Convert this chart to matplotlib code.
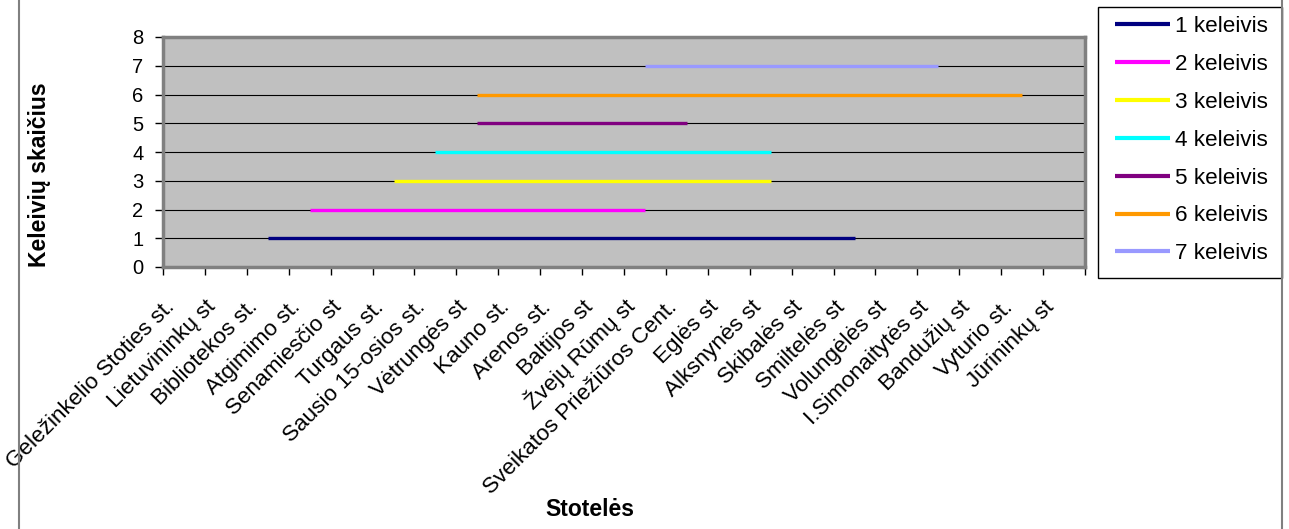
import numpy as np
import matplotlib
matplotlib.use("Agg")
import matplotlib.pyplot as plt
from matplotlib.lines import Line2D
from matplotlib.patches import Rectangle
from matplotlib.transforms import blended_transform_factory, ScaledTranslation

plt.rcParams['font.family'] = ['Liberation Sans', 'DejaVu Sans']

N = np.nan
stops = ["Geležinkelio Stoties st.", "Lietuvininkų st", "Bibliotekos st.", "Atgimimo st.",
         "Senamiesčio st", "Turgaus st.", "Sausio 15-osios st.", "Vėtrungės st",
         "Kauno st.", "Arenos st.", "Baltijos st", "Žvejų Rūmų st",
         "Sveikatos Priežiūros Cent.", "Eglės st", "Alksnynės st", "Skibalės st",
         "Smiltelės st", "Volungėlės st", "I.Simonaitytės st", "Bandužių st",
         "Vyturio st.", "Jūrininkų st"]

p1 = [N, N, 1, 1, 1, 1, 1, 1, 1, 1, 1, 1, 1, 1, 1, 1, 1, N, N, N, N, N]
p2 = [N, N, N, 2, 2, 2, 2, 2, 2, 2, 2, 2, N, N, N, N, N, N, N, N, N, N]
p3 = [N, N, N, N, N, 3, 3, 3, 3, 3, 3, 3, 3, 3, 3, N, N, N, N, N, N, N]
p4 = [N, N, N, N, N, N, 4, 4, 4, 4, 4, 4, 4, 4, 4, N, N, N, N, N, N, N]
p5 = [N, N, N, N, N, N, N, 5, 5, 5, 5, 5, 5, N, N, N, N, N, N, N, N, N]
p6 = [N, N, N, N, N, N, N, 6, 6, 6, 6, 6, 6, 6, 6, 6, 6, 6, 6, 6, 6, N]
p7 = [N, N, N, N, N, N, N, N, N, N, N, 7, 7, 7, 7, 7, 7, 7, 7, N, N, N]

series = [p1, p2, p3, p4, p5, p6, p7]
labels = ["1 keleivis", "2 keleivis", "3 keleivis", "4 keleivis",
          "5 keleivis", "6 keleivis", "7 keleivis"]
colors = ["#000080", "#FF00FF", "#FFFF00", "#00FFFF", "#800080", "#FF9900", "#9999FF"]

W, H = 1289, 529
fig = plt.figure(figsize=(W / 100, H / 100), dpi=100)
ax = fig.add_axes([163 / W, 1 - 267 / H, (1085 - 163) / W, (267 - 37) / H])
ax.set_facecolor("#C0C0C0")

x = np.arange(len(stops))
handles = []
for vals, lab, col in zip(series, labels, colors):
    ln, = ax.plot(x, vals, color=col, lw=2.4, solid_capstyle='butt', label=lab, zorder=3)
    handles.append(ln)

ax.set_xlim(-0.5, len(stops) - 0.5)
ax.set_ylim(0, 8)
ax.set_yticks(range(0, 9))
for yv in range(1, 8):
    ax.axhline(yv, color="black", lw=0.8, zorder=2)

# category labels (rotated, end of text near each category centre)
ax.set_xticks(np.arange(-0.5, len(stops), 1.0))
ax.set_xticklabels([])
ax.tick_params(axis='x', length=6, width=1, color='black', direction='out')
btr = blended_transform_factory(ax.transData, ax.transAxes)
off = ScaledTranslation(-9 / 100, -41 / 100, fig.dpi_scale_trans)
for i, name in enumerate(stops):
    ax.text(x[i], 0, name, transform=btr + off, rotation=45, rotation_mode='anchor',
            ha='right', va='baseline', fontsize=16.2, clip_on=False)

ax.tick_params(axis='y', length=6, width=1, color='black', direction='out', labelsize=14.5, pad=8)

for s in ax.spines.values():
    s.set_color("#808080")
    s.set_linewidth(2.5)

ax.set_ylabel("Keleivių skaičius", fontsize=16.5, fontweight='bold')
ax.yaxis.set_label_coords((51 - 163) / 922, (267 - 175) / 230)
ax.set_xlabel("Stotelės", fontsize=16.5, fontweight='bold')
ax.xaxis.set_label_coords((590 - 163) / 922, (267 - 498) / 230)

# legend frame + entries
fig.add_artist(Rectangle((1098 / W, 1 - 278 / H), (1282 - 1098) / W, (278 - 7) / H,
                         transform=fig.transFigure, facecolor='white', edgecolor='black', lw=1.0))
leg = fig.legend(handles=handles, loc='upper left',
                 bbox_to_anchor=(1115 / W, 1 - 16 / H),
                 fontsize=16.2, frameon=False, handlelength=2.44, handletextpad=0.22,
                 labelspacing=0.75, borderpad=0, borderaxespad=0)
for lh in leg.get_lines():
    lh.set_linewidth(3)

fig.add_artist(Line2D([19 / W, 19 / W], [0, 1], color="#808080", lw=1.5, transform=fig.transFigure))
fig.add_artist(Line2D([1282 / W, 1282 / W], [0, 1], color="#808080", lw=1.5, transform=fig.transFigure))

fig.savefig("out.png", dpi=100)
